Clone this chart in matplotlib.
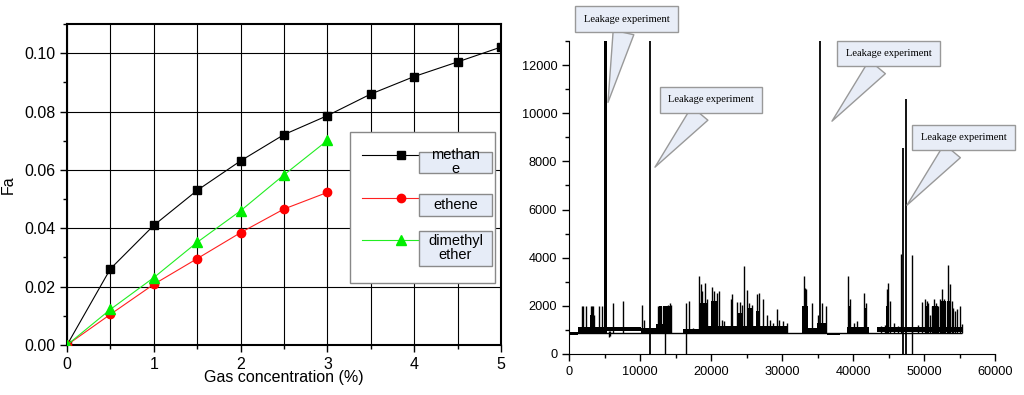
import matplotlib
matplotlib.use("Agg")
import matplotlib.pyplot as plt
from matplotlib.patches import Rectangle
from matplotlib.ticker import MultipleLocator, FormatStrFormatter

plt.rcParams['font.family'] = ['Liberation Sans', 'DejaVu Sans']

# ---------------- left panel data ----------------
conc = [0, 0.5, 1.0, 1.5, 2.0, 2.5, 3.0, 3.5, 4.0, 4.5, 5.0]
methane_fa = [0, 0.0261, 0.0410, 0.0530, 0.0631, 0.0721, 0.0786, 0.0860, 0.0920, 0.0970, 0.1021]
ethene_fa = [0, 0.0105, 0.0208, 0.0296, 0.0385, 0.0466, 0.0523]
dme_fa = [0, 0.0122, 0.0231, 0.0352, 0.0460, 0.0583, 0.0701]
series_names = ['methan\ne', 'ethene', 'dimethyl\nether']
x_ticks_left = [0, 1, 2, 3, 4, 5]

# ---------------- right panel data ----------------
base_level = 870
base_start, base_end = 0, 55400
band_x0 = [0, 1300, 5400, 10200, 12200, 16000, 18300, 32800, 35200, 36400, 39200, 43400]
band_x1 = [1300, 5000, 10200, 12200, 14500, 18300, 30800, 35200, 36400, 38200, 42200, 55400]
band_lo = [800, 880, 960, 880, 880, 880, 890, 890, 890, 770, 890, 900]
band_hi = [900, 1130, 1110, 1080, 1250, 1030, 1180, 1080, 1230, 870, 1130, 1130]

cluster_x0 = [3000, 12650, 13300, 18450, 20000, 22800, 23600, 25200, 26400, 32800, 34950,
              39300, 41500, 44700, 50100, 51100, 52200, 53300]
cluster_x1 = [3450, 13100, 14400, 19530, 21000, 23100, 24400, 25900, 26800, 33600, 36300,
              39700, 42000, 45100, 50700, 52000, 53100, 53800]
cluster_top = [1600, 2000, 2000, 2100, 2200, 1900, 1700, 1900, 1800, 2000, 1300,
               2000, 1900, 2000, 2000, 2000, 2200, 2200]

spike_x = [1789, 2014, 2394, 3100, 3240, 3380, 3500, 4240, 4578, 6150, 7650, 10235, 10500,
           12540, 12800, 13000, 13600, 13900, 14200, 14400, 16430, 16900, 17400,
           18350, 18600, 18800, 19200, 19500, 20140, 20400, 20800, 21130, 21500, 21800,
           22770, 23000, 23700, 24050, 24370, 24700, 25070, 25400, 25800, 26480, 26700,
           27320, 27840, 28300, 28700, 29250, 29600, 30200, 30660,
           33100, 33300, 33450, 34180, 35030, 35700, 36200,
           39340, 39580, 40200, 40600, 41600, 41830, 44000, 44500, 44740, 44980, 45200,
           45800, 46300, 46720, 48260, 49200, 49670, 50140, 50380, 50600, 50900, 51100,
           51400, 51700, 52000, 52250, 52580, 52800, 53000, 53430, 53660, 53900, 54120,
           54400, 54600, 55070, 55300]
spike_top = [2000, 2000, 2000, 2000, 2000, 2000, 1600, 2000, 2000, 2100, 2200, 2050, 1400,
             2000, 2000, 2000, 2000, 2050, 2100, 2050, 2100, 2200, 1100,
             3250, 2900, 2600, 2950, 2300, 2800, 2600, 2550, 2600, 1400, 1350,
             2300, 2500, 2150, 2150, 2050, 3650, 2650, 2100, 2050, 2500, 2550,
             2300, 1600, 1400, 1300, 1850, 1400, 1350, 1300,
             3250, 2750, 2700, 2100, 1600, 2100, 2000,
             3250, 2300, 1300, 1350, 2550, 2100, 1150, 1200, 2700, 2950, 2200,
             1300, 1150, 4150, 4100, 1200, 2150, 2300, 2200, 2100, 1600, 2000,
             2300, 2100, 2000, 2300, 2700, 2300, 2200, 3700, 2900, 2200, 1900,
             1800, 1850, 2000, 1250]

dip_x = [5600, 5750, 13520, 16430, 48260]
dip_y = [720, 760, 0, 0, 0]

burst_x0, burst_x1 = 4980, 5400
leak_x = [11409, 35350, 47100, 47420]
leak_lo = [0, 900, 0, 0]
leak_hi = [13000, 13000, 8550, 10600]

note_text = 'Leakage experiment'
note_x = [5490, 12110, 37040, 47600]
note_y = [10450, 7760, 9670, 6180]
note_box_px = [(626.5, 376), (711, 295), (888.5, 341.5), (963.5, 257.5)]

# ---------------- figure ----------------
fig = plt.figure(figsize=(10.24, 3.95), dpi=100)

# left axes
ax = fig.add_axes([67 / 1024, 50 / 395, 434 / 1024, 321 / 395])
ax.plot(conc, methane_fa, color='black', lw=0.8, marker='s', ms=5.3, zorder=3)
ax.plot(conc[:len(ethene_fa)], ethene_fa, color='#ff2020', lw=0.8, marker='o', ms=6,
        mfc='red', mec='red', zorder=3)
ax.plot(conc[:len(dme_fa)], dme_fa, color='#22ee22', lw=0.8, marker='^', ms=7.5,
        mfc='#00ee00', mec='#00ee00', zorder=3)
ax.set_xlim(0, 5)
ax.set_ylim(0, 0.11)
ax.xaxis.set_major_locator(MultipleLocator(1))
ax.xaxis.set_minor_locator(MultipleLocator(0.5))
ax.yaxis.set_major_locator(MultipleLocator(0.02))
ax.yaxis.set_minor_locator(MultipleLocator(0.01))
ax.yaxis.set_major_formatter(FormatStrFormatter('%.2f'))
ax.set_xticks(x_ticks_left)
ax.grid(True, which='major', axis='y', color='black', lw=0.8)
ax.grid(True, which='both', axis='x', color='black', lw=0.8)
ax.set_axisbelow(True)
ax.tick_params(which='both', direction='out', labelsize=11.5, width=1)
ax.tick_params(which='major', length=5)
ax.tick_params(which='minor', length=3)
for s in ax.spines.values():
    s.set_linewidth(1.5)
ax.set_xlabel('Gas concentration (%)', fontsize=11.5, labelpad=-1)
ax.set_ylabel('Fa', fontsize=11.5)
ax.yaxis.set_label_coords(-0.118, 0.5)

# legend frame
ax.add_patch(Rectangle((0.652, 0.193), 0.334, 0.471, transform=ax.transAxes,
                       facecolor='white', edgecolor='#888888', lw=1, zorder=4))
leg = ax.legend(ax.get_lines(), [' '] * 3, loc='upper left',
                bbox_to_anchor=(0.68, 0.61), borderaxespad=0, borderpad=0,
                frameon=False, handlelength=5.3, labelspacing=1.95, fontsize=10.5,
                handletextpad=0)
leg.set_zorder(5)
box_y = [(0.537, 0.065), (0.402, 0.068), (0.247, 0.109)]
for name, (y0, h) in zip(series_names, box_y):
    ax.add_patch(Rectangle((0.811, y0), 0.168, h, transform=ax.transAxes,
                           facecolor='#e6ecf7', edgecolor='#8a8a8a', lw=1, zorder=6))
    ax.text(0.895, y0 + h / 2, name, transform=ax.transAxes, ha='center', va='center',
            fontsize=10.5, linespacing=0.95, zorder=7)

# right axes
ax2 = fig.add_axes([569 / 1024, 41 / 395, 426 / 1024, 313 / 395])
ax2.hlines(base_level, base_start, base_end, color='black', lw=1.0)
ax2.bar(band_x0, [b - a for a, b in zip(band_lo, band_hi)],
        width=[b - a for a, b in zip(band_x0, band_x1)], bottom=band_lo,
        align='edge', color='black', lw=0)
ax2.bar(cluster_x0, [t - base_level for t in cluster_top],
        width=[b - a for a, b in zip(cluster_x0, cluster_x1)], bottom=base_level,
        align='edge', color='black', lw=0)
ax2.vlines(spike_x, base_level, spike_top, color='black', lw=1.0)
ax2.vlines(dip_x, dip_y, base_level + 100, color='black', lw=1.0)
ax2.bar([burst_x0], [13000 - base_level], width=[burst_x1 - burst_x0], bottom=base_level,
        align='edge', color='black', lw=0)
ax2.vlines(leak_x, leak_lo, leak_hi, color='black', lw=1.3)
ax2.set_xlim(0, 60000)
ax2.set_ylim(0, 13000)
ax2.xaxis.set_major_locator(MultipleLocator(10000))
ax2.xaxis.set_minor_locator(MultipleLocator(5000))
ax2.yaxis.set_major_locator(MultipleLocator(2000))
ax2.yaxis.set_minor_locator(MultipleLocator(1000))
ax2.spines['top'].set_visible(False)
ax2.spines['right'].set_visible(False)
ax2.tick_params(which='both', direction='out', labelsize=9.2, width=1)
ax2.tick_params(which='major', length=5)
ax2.tick_params(which='minor', length=3)

for xv, yv, (bx, by) in zip(note_x, note_y, note_box_px):
    ax2.annotate(note_text, xy=(xv, yv), xycoords='data', xytext=(bx, by),
                 textcoords='figure pixels', ha='center', va='center',
                 fontsize=7.6, family='Liberation Serif', annotation_clip=False,
                 bbox=dict(boxstyle='square,pad=0.8', fc='#e8edf7', ec='#999999', lw=1),
                 arrowprops=dict(arrowstyle='wedge,tail_width=2.0', fc='#e8edf7',
                                 ec='#999999', lw=1, shrinkA=0, shrinkB=0))

fig.savefig('out.png', dpi=100)
